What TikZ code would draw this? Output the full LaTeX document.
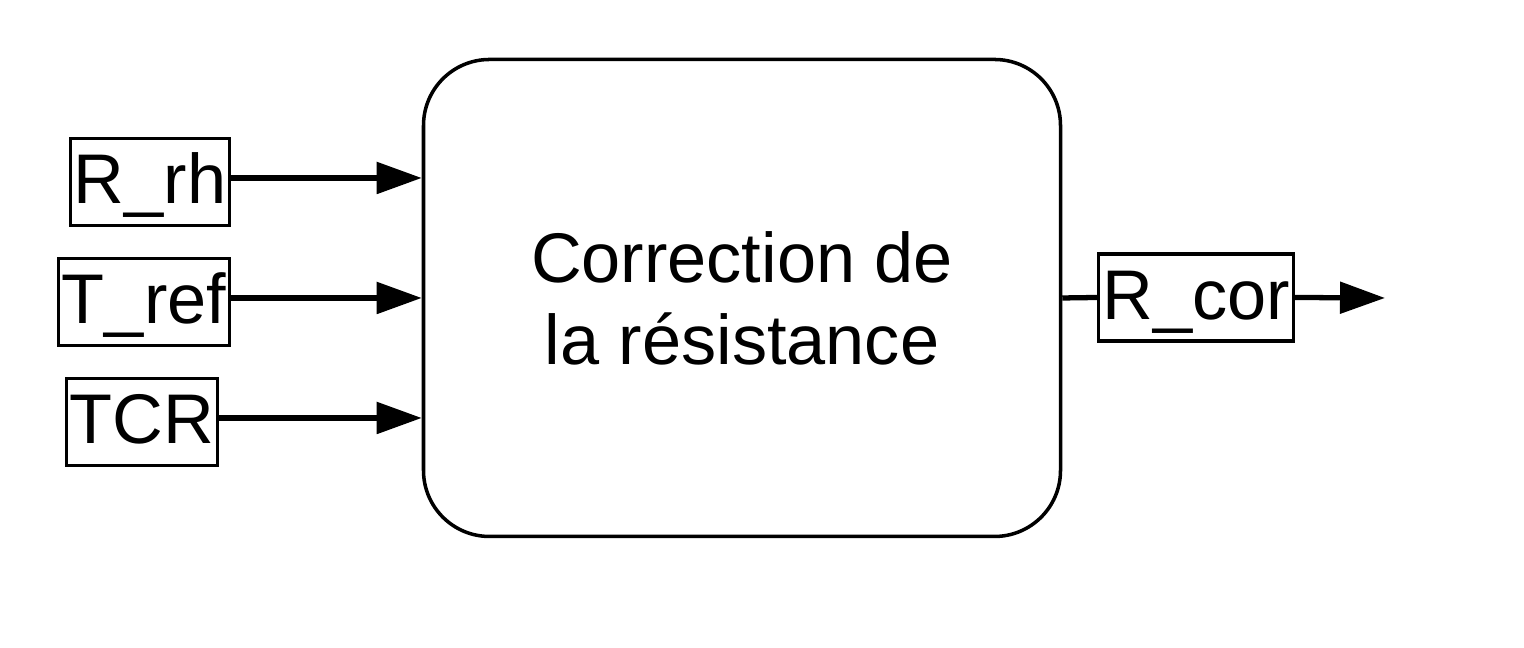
\documentclass[tikz,border=0pt]{standalone}
\usepackage{fontspec}
\setmainfont{Liberation Sans}
\usetikzlibrary{arrows.meta}

\begin{document}
\begin{tikzpicture}[
    font=\fontsize{20}{23.3}\selectfont,
    block/.style={draw, line width=1pt, rounded corners=0.66cm, minimum width=6.37cm, minimum height=4.77cm, align=center},
    signal/.style={draw, line width=0.9pt, inner xsep=0.035cm, inner ysep=0pt, text height=0.655cm, text depth=0.215cm},
    flow/.style={line width=1.5pt, -{Triangle[length=0.45cm, width=0.31cm]}}
]
    \useasboundingbox (0,0) rectangle (15.24,6.48);

    % Block
    \node[block] (main) at (7.42,3.50) {Correction de\\la résistance};

    % Inputs
    \node[signal] (Rrh) at (1.50,4.66) {R\_rh};
    \node[signal] (Tref) at (1.44,3.46) {T\_ref};
    \node[signal] (TCR) at (1.42,2.26) {TCR};

    \draw[flow] ([yshift=0.04cm]Rrh.east) -- ([yshift=0.04cm]Rrh.east -| main.west);
    \draw[flow] ([yshift=0.04cm]Tref.east) -- ([yshift=0.04cm]Tref.east -| main.west);
    \draw[flow] ([yshift=0.04cm]TCR.east) -- ([yshift=0.04cm]TCR.east -| main.west);

    % Output
    \node[signal] (Rcor) at (11.96,3.505) {R\_cor};
    \coordinate (out) at (13.85,3.50);
    \draw[line width=1.5pt] (main.east) -- (Rcor.west);
    \draw[flow] (Rcor.east) -- (out);
\end{tikzpicture}
\end{document}
